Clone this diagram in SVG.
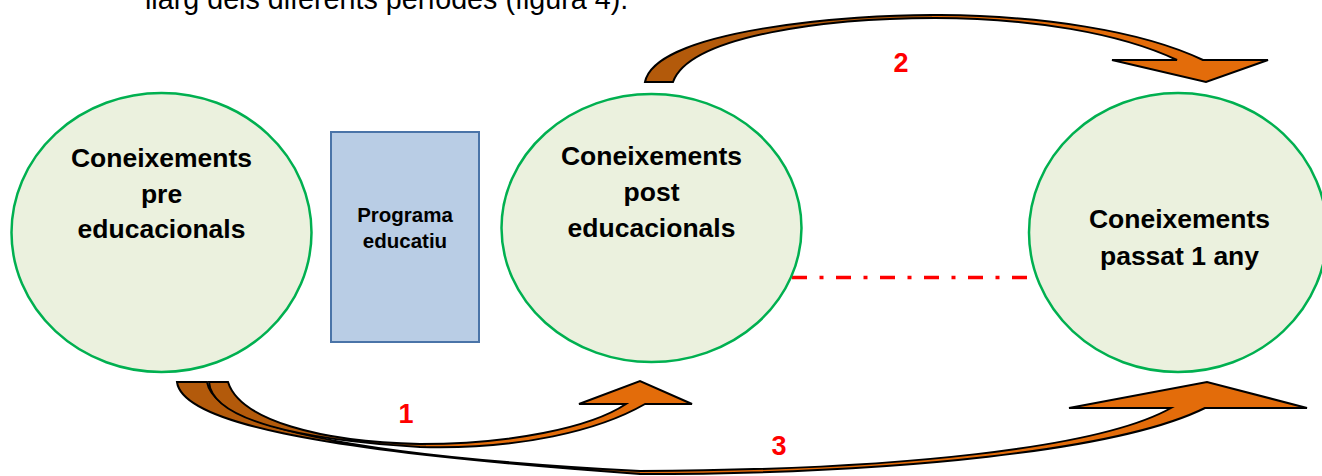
<svg xmlns="http://www.w3.org/2000/svg" width="1322" height="476" viewBox="0 0 1322 476">
<style>
.node ellipse{fill:#EBF1DE;stroke:#00B050;stroke-width:2.5}
.lbl{font-family:"Liberation Sans",Arial,sans-serif;font-weight:bold;font-size:26.5px;fill:#000;text-anchor:middle}
.small{font-size:20.5px}
.num{font-family:"Liberation Sans",Arial,sans-serif;font-weight:bold;font-size:27px;fill:#FF0000;text-anchor:middle}
.arrow{stroke:#000;stroke-width:2;stroke-linejoin:miter}
</style>
<defs>
<linearGradient id="g2" gradientUnits="userSpaceOnUse" x1="645" y1="0" x2="1268" y2="0">
<stop offset="0" stop-color="#B35A0B"/><stop offset="0.46" stop-color="#B35A0B"/><stop offset="0.46" stop-color="#E36C0A"/><stop offset="1" stop-color="#E36C0A"/>
</linearGradient>
<linearGradient id="g1" gradientUnits="userSpaceOnUse" x1="209" y1="0" x2="692" y2="0">
<stop offset="0" stop-color="#B35A0B"/><stop offset="0.45" stop-color="#B35A0B"/><stop offset="0.45" stop-color="#E36C0A"/><stop offset="1" stop-color="#E36C0A"/>
</linearGradient>
<linearGradient id="g3" gradientUnits="userSpaceOnUse" x1="177" y1="0" x2="1307" y2="0">
<stop offset="0" stop-color="#B35A0B"/><stop offset="0.41" stop-color="#B35A0B"/><stop offset="0.41" stop-color="#E36C0A"/><stop offset="1" stop-color="#E36C0A"/>
</linearGradient>
</defs>
<rect width="1322" height="476" fill="#FFFFFF"/>
<text x="145" y="9" font-family="'Liberation Sans',Arial,sans-serif" font-size="28.7" fill="#000">llarg dels diferents períodes (figura 4).</text>

<g id="connectors">
<path class="arrow" fill="url(#g2)" d="M645,82 C655,30 850,14 940,15 C1040,16 1140,30 1203,60 L1268,60 L1206,82 L1112,60 L1177,60 C1120,33 1030,18 935,18 C830,18 690,35 673,82 Z"/>
<path class="arrow" fill="url(#g3)" d="M177,382 C182,420 300,450 640,474 C900,474 1120,450 1205,408 L1307,408 L1207,382 L1069,408 L1171,408 C1100,448 900,470 640,471 C340,455 215,425 207,382 Z"/>
<path class="arrow" fill="url(#g1)" d="M209,382 C212,420 300,440 420,447 C520,450 600,430 645,404 L692,404 L640,381 L579,404 L626,404 C590,428 510,444 420,444 C320,442 240,420 228,382 Z"/>
<line x1="792" y1="277.5" x2="1028" y2="277.5" stroke="#FF0000" stroke-width="3.5" stroke-dasharray="15 12.5 4 12.5"/>
<text class="num" x="406" y="423">1</text>
<text class="num" x="901" y="72">2</text>
<text class="num" x="779" y="455">3</text>
</g>

<g id="node-pre" class="node">
<ellipse cx="161.5" cy="232.5" rx="150" ry="139.5"/>
<text class="lbl" x="161.5" y="167">Coneixements</text>
<text class="lbl" x="161.5" y="202.5">pre</text>
<text class="lbl" x="161.5" y="238">educacionals</text>
</g>

<g id="node-programa">
<rect x="331" y="132" width="148" height="210" fill="#B9CDE5" stroke="#4A74A8" stroke-width="2"/>
<text class="lbl small" x="405" y="222">Programa</text>
<text class="lbl small" x="405" y="248">educatiu</text>
</g>

<g id="node-post" class="node">
<ellipse cx="651.5" cy="228" rx="150" ry="134"/>
<text class="lbl" x="651.5" y="165">Coneixements</text>
<text class="lbl" x="651.5" y="200.5">post</text>
<text class="lbl" x="651.5" y="237">educacionals</text>
</g>

<g id="node-any" class="node">
<ellipse cx="1178" cy="232.5" rx="149" ry="139.5"/>
<text class="lbl" x="1179.5" y="228">Coneixements</text>
<text class="lbl" x="1179.5" y="265">passat 1 any</text>
</g>
</svg>
